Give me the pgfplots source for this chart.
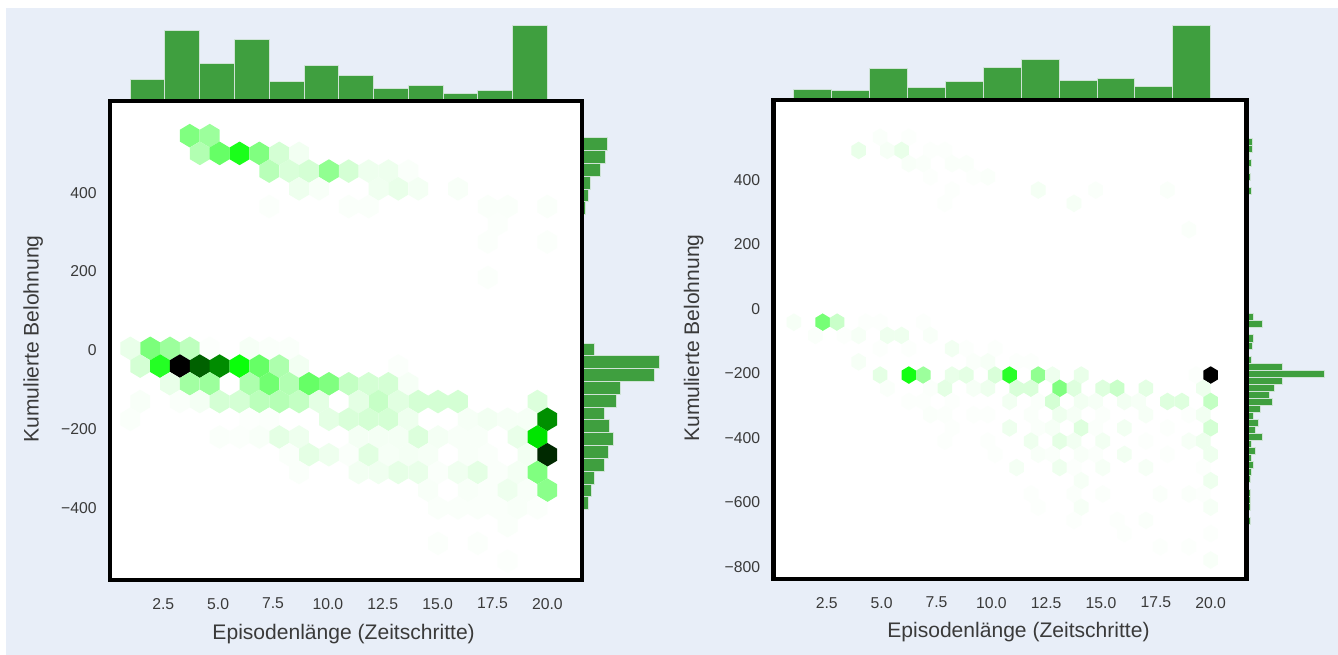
\documentclass[border=0pt]{standalone}
\usepackage{fontspec}
\setmainfont{Liberation Sans}
\usepackage{pgfplots}
\pgfplotsset{compat=1.18}
\definecolor{pagebg}{HTML}{E8EEF8}
\definecolor{histgreen}{HTML}{3F9F3F}
\definecolor{histedge}{HTML}{CFE3D6}
\definecolor{labelgray}{HTML}{3A3A3A}
% hexbin cells, sizes
\pgfdeclareplotmark{hexl}{%
  \pgfpathmoveto{\pgfqpoint{0pt}{8.86pt}}%
  \pgfpathlineto{\pgfqpoint{7.43pt}{4.43pt}}%
  \pgfpathlineto{\pgfqpoint{7.43pt}{-4.43pt}}%
  \pgfpathlineto{\pgfqpoint{0pt}{-8.86pt}}%
  \pgfpathlineto{\pgfqpoint{-7.43pt}{-4.43pt}}%
  \pgfpathlineto{\pgfqpoint{-7.43pt}{4.43pt}}%
  \pgfpathclose\pgfusepathqfill}
\pgfdeclareplotmark{hexr}{%
  \pgfpathmoveto{\pgfqpoint{0pt}{6.6pt}}%
  \pgfpathlineto{\pgfqpoint{5.45pt}{3.3pt}}%
  \pgfpathlineto{\pgfqpoint{5.45pt}{-3.3pt}}%
  \pgfpathlineto{\pgfqpoint{0pt}{-6.6pt}}%
  \pgfpathlineto{\pgfqpoint{-5.45pt}{-3.3pt}}%
  \pgfpathlineto{\pgfqpoint{-5.45pt}{3.3pt}}%
  \pgfpathclose\pgfusepathqfill}
\pgfplotsset{
  histaxis/.style={scale only axis,hide axis,clip=true},
  mainaxis/.style={
    scale only axis,
    axis background/.style={fill=white},
    axis on top,
    axis line style={line width=3.4pt,black},
    major tick length=0pt,
    xtick={2.5,5,7.5,10,12.5,15,17.5,20},
    xticklabels={2.5,5.0,7.5,10.0,12.5,15.0,17.5,20.0},
    tick label style={font=\fontsize{11.8pt}{13pt}\selectfont,text=labelgray},
    xticklabel style={yshift=-10pt},
    yticklabel style={xshift=-6.5pt},
    label style={font=\fontsize{15.8pt}{18pt}\selectfont,text=labelgray},
    xlabel={Episodenlänge (Zeitschritte)},
    ylabel={Kumulierte Belohnung},
    colormap={hexgreen}{rgb255(0)=(255,255,255) rgb255(20)=(250,255,250) rgb255(50)=(238,255,238)
      rgb255(100)=(212,255,212) rgb255(250)=(128,255,128) rgb255(500)=(0,255,0) rgb255(1000)=(0,0,0)},
    point meta min=0,point meta max=1,
  },
  histbar/.style={fill=histgreen,draw=histedge,line width=0.75pt},
}
\begin{document}
\begin{tikzpicture}
\path[use as bounding box] (0,0) rectangle (1003.5pt,491.25pt);
\fill[white] (0,0) rectangle (1003.5pt,491.25pt);
\fill[pagebg] (4.5pt,0) rectangle (1003.5pt,485.25pt);

% left panel
\begin{axis}[histaxis,at={(82.5pt,415.5pt)},width=354pt,height=60pt,
  xmin=0.076,xmax=21.58,ymin=0,ymax=80]
\addplot[ybar interval,histbar] coordinates {
  (1.00,21.7)(2.58,70)(4.17,37.7)(5.75,61.3)(7.33,19)(8.92,35.3)(10.50,25.7)
  (12.08,12.7)(13.67,15.7)(15.25,7)(16.83,10.3)(18.42,75.7)(20.00,0)};
\end{axis}
\begin{axis}[histaxis,at={(436.5pt,56.25pt)},width=60pt,height=359.25pt,
  xmin=0,xmax=80,ymin=-583,ymax=633]
\addplot[xbar interval,histbar] coordinates {
  (3.4,344.1)(6,376.7)(8,409.2)(18,441.8)(23.5,474.3)(25.6,506.9)(0,539.4)};
\addplot[xbar interval,histbar] coordinates {
  (6.4,-404.55)(9,-372)(12,-339.45)(22.2,-306.9)(26.5,-274.35)(31.2,-241.8)(27.8,-209.25)
  (22.2,-176.7)(34.2,-144.15)(38.4,-111.6)(72.2,-79.05)(77.8,-46.5)(12,-13.95)(0,18.6)};
\end{axis}
\begin{axis}[mainaxis,at={(82.5pt,56.25pt)},width=354pt,height=359.25pt,
  xmin=0.076,xmax=21.58,ymin=-583,ymax=633,
  ytick={-400,-200,0,200,400},yticklabels={−400,−200,0,200,400},
  ylabel style={at={(axis description cs:-0.163,0.503)},anchor=center},
  xlabel style={at={(axis description cs:0.495,-0.1128)},anchor=center}]
\addplot[scatter,only marks,mark=hexl,scatter src=explicit] table[x=x,y=y,meta=c,row sep=\\] {
x y c\\
3.71 545 .25\\ 4.62 545 .2\\
4.17 500 .16\\ 5.07 500 .3\\ 5.98 500 .45\\ 6.88 500 .25\\ 7.79 500 .1\\ 8.69 500 .04\\
7.33 455 .15\\ 8.24 455 .09\\ 9.14 455 .1\\ 10.05 455 .22\\ 10.95 455 .1\\ 11.86 455 .05\\ 12.76 455 .05\\ 13.67 455 .02\\
8.69 410 .05\\ 9.60 410 .025\\ 12.31 410 .045\\ 13.21 410 .06\\ 14.12 410 .035\\ 15.93 410 .025\\
7.33 365 .015\\ 10.95 365 .02\\ 11.86 365 .02\\ 17.29 365 .02\\ 18.19 365 .02\\ 20 365 .02\\
17.74 320 .015\\
17.29 275 .015\\ 20 275 .015\\
17.29 185 .015\\
1 5 .06\\ 1.91 5 .26\\ 2.81 5 .2\\ 3.71 5 .14\\ 4.62 5 .01\\ 6.43 5 .03\\ 7.33 5 .02\\ 8.24 5 .02\\
1.45 -40 .1\\ 2.36 -40 .43\\ 3.26 -40 1\\ 4.17 -40 .81\\ 5.07 -40 .725\\ 5.98 -40 .48\\ 6.88 -40 .3\\ 7.79 -40 .17\\ 8.69 -40 .04\\ 13.21 -40 .015\\
2.81 -85 .06\\ 3.71 -85 .19\\ 4.62 -85 .2\\ 6.43 -85 .17\\ 7.33 -85 .28\\ 8.24 -85 .16\\ 9.14 -85 .3\\ 10.05 -85 .25\\ 10.95 -85 .13\\ 11.86 -85 .1\\ 12.76 -85 .1\\ 13.67 -85 .03\\
1.45 -130 .025\\ 3.26 -130 .02\\ 4.17 -130 .035\\ 5.07 -130 .1\\ 5.98 -130 .1\\ 6.88 -130 .145\\ 7.79 -130 .155\\ 8.69 -130 .13\\ 9.60 -130 .07\\ 11.40 -130 .07\\ 12.31 -130 .125\\ 13.21 -130 .075\\ 14.12 -130 .1\\ 15.02 -130 .1\\ 15.93 -130 .1\\ 19.55 -130 .085\\
1 -175 .02\\ 6.43 -175 .01\\ 7.33 -175 .015\\ 10.05 -175 .07\\ 10.95 -175 .09\\ 11.86 -175 .1\\ 12.76 -175 .1\\ 13.67 -175 .05\\ 16.38 -175 .03\\ 17.29 -175 .04\\ 18.19 -175 .03\\ 19.10 -175 .03\\ 20 -175 .72\\
5.07 -220 .02\\ 5.98 -220 .015\\ 6.88 -220 .025\\ 7.79 -220 .07\\ 8.69 -220 .05\\ 11.40 -220 .035\\ 12.31 -220 .035\\ 13.21 -220 .035\\ 14.12 -220 .085\\ 15.02 -220 .035\\ 15.93 -220 .025\\ 16.83 -220 .025\\ 18.64 -220 .06\\ 19.55 -220 .55\\
8.24 -265 .02\\ 9.14 -265 .07\\ 10.05 -265 .05\\ 10.95 -265 .02\\ 11.86 -265 .075\\ 12.76 -265 .03\\ 13.67 -265 .035\\ 14.57 -265 .03\\ 16.38 -265 .025\\ 17.29 -265 .02\\ 19.10 -265 .04\\ 20 -265 .92\\
8.69 -310 .02\\ 11.40 -310 .04\\ 12.31 -310 .045\\ 13.21 -310 .065\\ 14.12 -310 .06\\ 15.02 -310 .02\\ 15.93 -310 .045\\ 16.83 -310 .07\\ 17.74 -310 .02\\ 18.64 -310 .035\\ 19.55 -310 .25\\
14.57 -355 .025\\ 16.38 -355 .025\\ 17.29 -355 .02\\ 18.19 -355 .05\\ 19.10 -355 .025\\ 20 -355 .23\\
15.02 -400 .02\\ 15.93 -400 .02\\ 16.83 -400 .02\\ 17.74 -400 .02\\ 18.64 -400 .025\\ 19.55 -400 .015\\
18.19 -445 .02\\
15.02 -490 .015\\ 16.83 -490 .015\\
18.19 -535 .012\\
};
\end{axis}

% right panel
\begin{axis}[histaxis,at={(580.125pt,416.25pt)},width=354.675pt,height=60pt,
  xmin=0.07,xmax=21.63,ymin=0,ymax=80]
\addplot[ybar interval,histbar] coordinates {
  (1.00,10.3)(2.73,9.3)(4.45,31)(6.18,12.7)(7.91,18)(9.64,32)(11.36,40.7)
  (13.09,19)(14.82,21.3)(16.55,13.7)(18.27,74.7)(20.00,0)};
\end{axis}
\begin{axis}[histaxis,at={(934.8pt,57pt)},width=60pt,height=359.25pt,
  xmin=0,xmax=80,ymin=-837.9,ymax=648.6]
\addplot[xbar interval,histbar] coordinates {
  (5.5,355.3)(0,377.1)(3.8,398.9)(3,420.7)(5.5,442.5)(3,464.3)(6.4,486.1)(6.4,507.9)(0,529.7)};
\addplot[xbar interval,histbar] coordinates {
  (3.8,-669.3)(0,-647.5)(3.8,-625.7)(3.8,-603.9)(3.8,-582.1)(0,-560.3)(3.8,-538.5)(5.5,-516.7)
  (7.2,-494.9)(5.5,-473.1)(9.4,-451.3)(5.5,-429.5)(16.2,-407.7)(9.4,-385.9)(11.9,-364.1)
  (7.2,-342.3)(14,-320.5)(26,-298.7)(22.6,-276.9)(28.1,-255.1)(35.8,-233.3)(78,-211.5)
  (35.8,-189.7)(5.5,-167.9)(0,-146.1)(6.4,-124.3)(7.2,-102.5)(0,-80.7)(16.2,-58.9)(7.2,-37.1)(0,-15.3)};
\end{axis}
\begin{axis}[mainaxis,at={(580.125pt,57pt)},width=354.675pt,height=359.25pt,
  xmin=0.07,xmax=21.63,ymin=-837.9,ymax=648.6,
  ytick={-800,-600,-400,-200,0,200,400},yticklabels={−800,−600,−400,−200,0,200,400},
  ylabel style={at={(axis description cs:-0.169,0.503)},anchor=center},
  xlabel style={at={(axis description cs:0.518,-0.111)},anchor=center}]
\addplot[scatter,only marks,mark=hexr,scatter src=explicit] table[x=x,y=y,meta=c,row sep=\\] {
x y c\\
4.93 533 .02\\ 6.24 533 .012\\
3.95 492 .06\\ 5.26 492 .03\\ 5.91 492 .06\\ 7.22 492 .012\\ 7.88 492 .012\\
6.24 451 .025\\ 6.90 451 .02\\ 8.21 451 .02\\ 8.86 451 .02\\
7.22 410 .012\\ 9.19 410 .012\\ 9.84 410 .02\\
8.21 369 .012\\ 12.14 369 .035\\ 14.76 369 .02\\ 18.03 369 .02\\
7.88 328 .012\\ 13.77 328 .03\\
19.01 246 .02\\
1.00 -41 .03\\ 2.31 -41 .27\\ 2.97 -41 .12\\ 4.28 -41 .012\\ 4.93 -41 .012\\ 6.90 -41 .012\\
1.98 -82 .02\\ 3.29 -82 .012\\ 3.95 -82 .03\\ 5.26 -82 .05\\ 5.91 -82 .05\\ 7.22 -82 .025\\
4.93 -123 .01\\ 6.24 -123 .01\\ 8.21 -123 .04\\ 8.86 -123 .01\\ 10.17 -123 .012\\
3.95 -164 .03\\ 9.19 -164 .02\\ 9.84 -164 .03\\ 11.15 -164 .01\\ 11.81 -164 .01\\
4.93 -205 .07\\ 6.24 -205 .46\\ 6.90 -205 .2\\ 8.21 -205 .06\\ 8.86 -205 .07\\ 10.17 -205 .09\\ 10.83 -205 .42\\ 12.14 -205 .22\\ 12.79 -205 .05\\ 14.10 -205 .06\\ 19.34 -205 .01\\ 20 -205 1\\
5.26 -246 .02\\ 7.22 -246 .015\\ 7.88 -246 .07\\ 9.19 -246 .03\\ 9.84 -246 .05\\ 11.15 -246 .09\\ 11.81 -246 .09\\ 13.12 -246 .25\\ 13.77 -246 .08\\ 15.08 -246 .08\\ 15.74 -246 .12\\ 17.05 -246 .07\\ 19.67 -246 .05\\
6.24 -287 .01\\ 6.90 -287 .01\\ 8.21 -287 .012\\ 10.83 -287 .04\\ 12.14 -287 .02\\ 12.79 -287 .1\\ 14.10 -287 .04\\ 14.76 -287 .03\\ 16.07 -287 .04\\ 16.72 -287 .03\\ 18.03 -287 .08\\ 18.69 -287 .08\\ 20 -287 .13\\
7.22 -328 .02\\ 7.88 -328 .015\\ 9.19 -328 .012\\ 9.84 -328 .012\\ 11.81 -328 .02\\ 13.12 -328 .05\\ 13.77 -328 .03\\ 15.08 -328 .015\\ 17.05 -328 .03\\ 19.01 -328 .012\\ 19.67 -328 .04\\
8.21 -369 .012\\ 10.83 -369 .05\\ 12.14 -369 .02\\ 12.79 -369 .03\\ 14.10 -369 .08\\ 14.76 -369 .015\\ 16.07 -369 .04\\ 18.03 -369 .012\\ 20 -369 .1\\
7.88 -410 .012\\ 9.84 -410 .012\\ 11.81 -410 .05\\ 13.12 -410 .07\\ 13.77 -410 .04\\ 15.08 -410 .04\\ 17.05 -410 .012\\ 19.01 -410 .03\\ 19.67 -410 .05\\
10.17 -451 .012\\ 12.14 -451 .025\\ 12.79 -451 .02\\ 14.10 -451 .025\\ 14.76 -451 .015\\ 16.07 -451 .04\\ 18.03 -451 .012\\ 20 -451 .05\\
11.15 -492 .035\\ 13.12 -492 .05\\ 13.77 -492 .012\\ 15.08 -492 .03\\ 17.05 -492 .03\\ 19.67 -492 .012\\
14.10 -533 .03\\ 20 -533 .05\\
11.81 -574 .01\\ 13.77 -574 .015\\ 15.08 -574 .015\\ 17.70 -574 .02\\ 19.01 -574 .02\\ 19.67 -574 .012\\
12.14 -615 .012\\ 14.10 -615 .03\\ 20 -615 .03\\
13.77 -656 .012\\ 15.74 -656 .012\\ 17.05 -656 .02\\
16.07 -697 .012\\ 20 -697 .012\\
17.70 -738 .012\\ 19.01 -738 .012\\
20 -779 .025\\
};
\end{axis}
\end{tikzpicture}
\end{document}
